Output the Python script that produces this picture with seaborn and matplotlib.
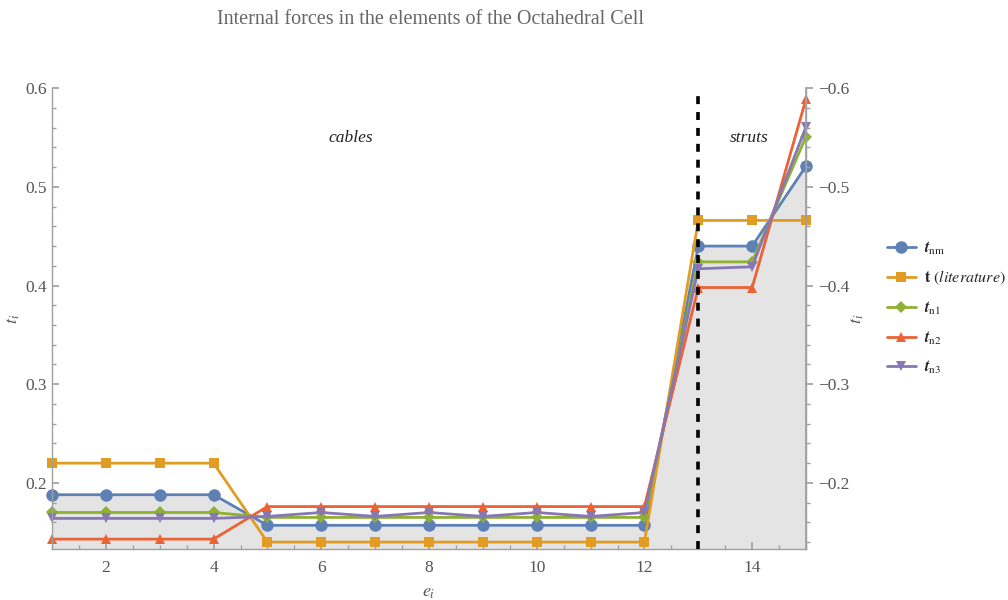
import numpy as np
import pandas as pd
import matplotlib
matplotlib.use("Agg")
import matplotlib.pyplot as plt
import seaborn as sns
from matplotlib.ticker import MultipleLocator, FuncFormatter

# ---------------- data ----------------
elements = list(range(1, 16))
t_nm = [0.188] * 4 + [0.157] * 8 + [0.440, 0.440, 0.521]
t_lit = [0.220] * 4 + [0.140] * 8 + [0.466, 0.466, 0.466]
t_n1 = [0.170] * 4 + [0.165] * 8 + [0.424, 0.424, 0.551]
t_n2 = [0.143] * 4 + [0.176] * 8 + [0.398, 0.398, 0.589]
t_n3 = [0.164] * 4 + [0.166, 0.170, 0.166, 0.170, 0.166, 0.170, 0.166, 0.170] + [0.417, 0.419, 0.561]

series_labels = [r"$\mathbfit{t}_{\mathrm{nm}}$",
                 r"$\mathbf{t}$ $\mathit{(literature)}$",
                 r"$\mathbfit{t}_{\mathrm{n1}}$",
                 r"$\mathbfit{t}_{\mathrm{n2}}$",
                 r"$\mathbfit{t}_{\mathrm{n3}}$"]
series_values = [t_nm, t_lit, t_n1, t_n2, t_n3]
colors = ["#5E81B5", "#E19C24", "#8FB032", "#EB6235", "#8778B3"]
markers = ["o", "s", "D", "^", "v"]
msizes = [9, 6.5, 6.5, 7.5, 7.5]

sns.set_theme(style="white")
plt.rcParams["font.family"] = ["Liberation Serif", "DejaVu Serif"]
plt.rcParams["mathtext.fontset"] = "stix"

fig = plt.figure(figsize=(10.08, 6), dpi=100)
ax = fig.add_axes([0.0516, 0.085, 0.748, 0.768])

# filling under the first series
ax.fill_between(elements, t_nm, 0, color="#e4e4e4", zorder=0, linewidth=0)

for lab, vals, c, m, ms in zip(series_labels, series_values, colors, markers, msizes):
    df = pd.DataFrame({"e": elements, "t": vals})
    sns.lineplot(data=df, x="e", y="t", ax=ax, color=c, marker=m, markersize=ms,
                 markeredgewidth=0, linewidth=2, label=lab, clip_on=False)

ax.axvline(13, ymax=0.988, color="black", linestyle=(0, (2.2, 2.2)), linewidth=2.6, zorder=5)

ax.text(6.55, 0.55, "cables", style="italic", fontsize=12.5, ha="center", va="center", color="#222")
ax.text(13.95, 0.55, "struts", style="italic", fontsize=12.5, ha="center", va="center", color="#222")

ax.set_xlim(1, 15)
ax.set_ylim(0.133, 0.6)
ax.xaxis.set_major_locator(MultipleLocator(2))
ax.xaxis.set_minor_locator(MultipleLocator(0.5))
ax.yaxis.set_major_locator(MultipleLocator(0.1))
ax.yaxis.set_minor_locator(MultipleLocator(0.02))
ax.set_xticks([2, 4, 6, 8, 10, 12, 14])
ax.yaxis.set_major_formatter(FuncFormatter(lambda v, p: f"{v:.1f}"))

spine_c = "#a0a0a0"
for s in ["left", "bottom", "right"]:
    ax.spines[s].set_color(spine_c)
    ax.spines[s].set_linewidth(1.0)
ax.spines["top"].set_visible(False)

ax.tick_params(axis="both", which="major", direction="in", length=5, color=spine_c,
               labelsize=12.5, labelcolor="#555555", bottom=True, left=True)
ax.tick_params(axis="both", which="minor", direction="in", length=3, color=spine_c,
               bottom=True, left=True)
ax.tick_params(axis="x", pad=8)

ax.set_xlabel("")
ax.set_ylabel("")
fig.text(0.425, 0.013, r"$e_i$", fontsize=13, color="#555555", ha="center", va="center")
fig.text(0.013, 0.468, r"$t_i$", fontsize=13, color="#555555", ha="center", va="center",
         rotation=90)

ax2 = ax.twinx()
ax2.set_ylim(ax.get_ylim())
ax2.yaxis.set_major_locator(MultipleLocator(0.1))
ax2.yaxis.set_minor_locator(MultipleLocator(0.02))
ax2.yaxis.set_major_formatter(FuncFormatter(lambda v, p: f"\u2212{v:.1f}"))
for s in ["left", "bottom", "top"]:
    ax2.spines[s].set_visible(False)
ax2.spines["right"].set_color(spine_c)
ax2.tick_params(axis="y", which="major", direction="out", length=5, color=spine_c,
                labelsize=12.5, labelcolor="#555555", right=True)
ax2.tick_params(axis="y", which="minor", direction="out", length=3, color=spine_c, right=True)
fig.text(0.851, 0.468, r"$t_i$", fontsize=13, color="#555555", ha="center", va="center",
         rotation=90)

handles, labels = ax.get_legend_handles_labels()
ax.legend_.remove()
fig.legend(handles, labels, loc="center left", bbox_to_anchor=(0.880, 0.487),
           frameon=False, fontsize=11.5, handlelength=1.8, labelspacing=0.78,
           handletextpad=0.5, borderaxespad=0, borderpad=0)

fig.text(0.427, 0.967, "Internal forces in the elements of the Octahedral Cell",
         ha="center", va="center", fontsize=14.5, color="#666666")

fig.savefig("out.png", dpi=100, facecolor="white")
